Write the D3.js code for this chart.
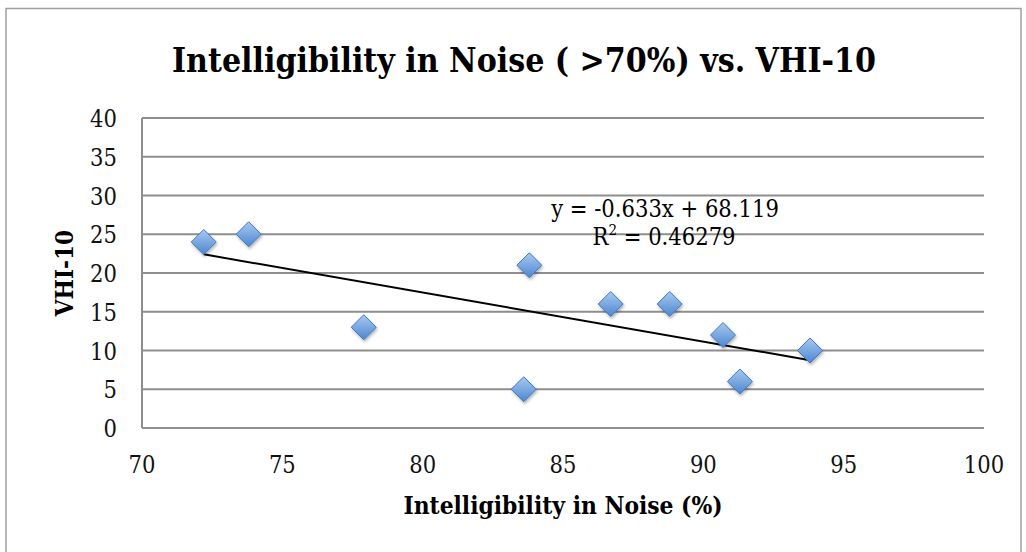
<!DOCTYPE html>
<html>
<head>
<meta charset="utf-8">
<script src="https://cdn.jsdelivr.net/npm/d3@7"></script>
<style>
  body { margin: 0; background: #fff; }
  text { font-family: "DejaVu Serif Condensed", "DejaVu Serif", serif; font-stretch: condensed; }
</style>
</head>
<body>
<div id="chart"></div>
<script>
// data
const intelligibility = [72.2, 73.8, 77.9, 83.6, 83.8, 86.7, 88.8, 90.7, 91.3, 93.8];
const vhi10 = [24, 25, 13, 5, 21, 16, 16, 12, 6, 10];
const xTicks = [70, 75, 80, 85, 90, 95, 100];
const yTicks = [0, 5, 10, 15, 20, 25, 30, 35, 40];
const slope = -0.633, intercept = 68.119;
const equationText = 'y = -0.633x + 68.119';
const r2Value = '0.46279';

const width = 1026, height = 552;
const margin = { top: 118, right: 42, bottom: 124, left: 142 };

const svg = d3.select('#chart')
  .append('svg')
  .attr('width', width)
  .attr('height', height);

// outer chart border
svg.append('rect')
  .attr('x', 6).attr('y', 8.5)
  .attr('width', 1015).attr('height', 560)
  .attr('fill', 'none')
  .attr('stroke', '#a0a0a0')
  .attr('stroke-width', 1.5);

const xScale = d3.scaleLinear()
  .domain([70, 100])
  .range([margin.left, width - margin.right]);

const yScale = d3.scaleLinear()
  .domain([0, 40])
  .range([height - margin.bottom, margin.top]);

// gradient + shadow for diamond markers
const defs = svg.append('defs');
const grad = defs.append('linearGradient')
  .attr('id', 'dia').attr('x1', 0).attr('y1', 0).attr('x2', 0).attr('y2', 1);
grad.append('stop').attr('offset', '0%').attr('stop-color', '#a9c9f0');
grad.append('stop').attr('offset', '100%').attr('stop-color', '#4c87d0');
const shadow = defs.append('filter').attr('id', 'sh')
  .attr('x', '-50%').attr('y', '-50%').attr('width', '200%').attr('height', '200%');
shadow.append('feDropShadow')
  .attr('dx', 1).attr('dy', 2).attr('stdDeviation', 1.5)
  .attr('flood-color', '#000').attr('flood-opacity', 0.3);

// gridlines
svg.append('g')
  .selectAll('line')
  .data(yTicks)
  .enter()
  .append('line')
  .attr('x1', xScale(70))
  .attr('x2', xScale(100))
  .attr('y1', d => yScale(d))
  .attr('y2', d => yScale(d))
  .attr('stroke', '#8e8e8e')
  .attr('stroke-width', 2);

// left axis line
svg.append('line')
  .attr('x1', xScale(70)).attr('x2', xScale(70))
  .attr('y1', yScale(0)).attr('y2', yScale(40))
  .attr('stroke', '#8e8e8e')
  .attr('stroke-width', 2);

// tick labels
svg.append('g')
  .selectAll('text')
  .data(yTicks)
  .enter()
  .append('text')
  .attr('x', xScale(70) - 25)
  .attr('y', d => yScale(d) + 9)
  .attr('text-anchor', 'end')
  .attr('font-size', 23.5)
  .attr('fill', '#111')
  .text(d => d);

svg.append('g')
  .selectAll('text')
  .data(xTicks)
  .enter()
  .append('text')
  .attr('x', d => xScale(d))
  .attr('y', yScale(0) + 45)
  .attr('text-anchor', 'middle')
  .attr('font-size', 23.5)
  .attr('fill', '#111')
  .text(d => d);

// trend line over the data range
const xExtent = d3.extent(intelligibility);
svg.append('line')
  .attr('x1', xScale(xExtent[0]))
  .attr('y1', yScale(slope * xExtent[0] + intercept))
  .attr('x2', xScale(xExtent[1]))
  .attr('y2', yScale(slope * xExtent[1] + intercept))
  .attr('stroke', '#000')
  .attr('stroke-width', 2);

// diamonds
const r = 12.5;
svg.append('g')
  .selectAll('path')
  .data(intelligibility)
  .enter()
  .append('path')
  .attr('transform', (d, i) => `translate(${xScale(d)},${yScale(vhi10[i])})`)
  .attr('d', `M0,${-r}L${r},0L0,${r}L${-r},0Z`)
  .attr('fill', 'url(#dia)')
  .attr('stroke', '#3f78c2')
  .attr('stroke-width', 1)
  .attr('filter', 'url(#sh)');

// trend equation
svg.append('text')
  .attr('x', 665).attr('y', 217)
  .attr('text-anchor', 'middle')
  .attr('font-size', 23.5)
  .text(equationText);

const r2 = svg.append('text')
  .attr('x', 664).attr('y', 245)
  .attr('text-anchor', 'middle')
  .attr('font-size', 23.5);
r2.append('tspan').text('R');
r2.append('tspan').attr('font-size', 15).attr('dy', -10).text('2');
r2.append('tspan').attr('dy', 10).text(' = ' + r2Value);

// title
svg.append('text')
  .attr('x', 524).attr('y', 72)
  .attr('text-anchor', 'middle')
  .attr('font-size', 33.5)
  .attr('font-weight', 'bold')
  .text('Intelligibility in Noise ( >70%) vs. VHI-10');

// axis titles
svg.append('text')
  .attr('x', 563).attr('y', 514)
  .attr('text-anchor', 'middle')
  .attr('font-size', 24.3)
  .attr('font-weight', 'bold')
  .text('Intelligibility in Noise (%)');

svg.append('text')
  .attr('transform', `translate(73,${(yScale(0) + yScale(40)) / 2}) rotate(-90)`)
  .attr('text-anchor', 'middle')
  .attr('font-size', 24)
  .attr('font-weight', 'bold')
  .text('VHI-10');
</script>
</body>
</html>
